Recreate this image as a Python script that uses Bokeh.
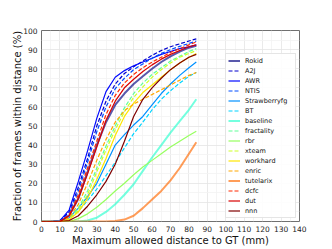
from bokeh.plotting import figure
from bokeh.models import Legend, LegendItem, FixedTicker
from bokeh.embed import file_html
from bokeh.resources import INLINE

# distance thresholds (mm)
dist = [0, 5, 10, 15, 20, 25, 30, 35, 40, 45, 50, 55, 60, 65, 70, 75, 80, 84]

Rokid        = [0, 0, 0, 3, 12, 26, 40, 52, 61, 67, 72, 76, 80, 83.5, 86.5, 89, 91, 92]
A2J          = [0, 0, 0.5, 5, 18, 33, 50, 63, 72, 77.5, 81, 84, 87, 89.5, 91.5, 93, 94.5, 95.6]
AWR          = [0, 0, 0.5, 6, 21, 37, 54, 68, 75.5, 79, 81.5, 83.5, 85.5, 87.5, 89, 90.5, 91.5, 92.5]
NTIS         = [0, 0, 0.3, 4, 16, 31, 47, 60, 69.5, 75, 79.5, 82.5, 85.5, 88, 90, 91.7, 93.2, 94.5]
Strawberryfg = [0, 0, 0, 2, 7, 13, 20, 30, 40, 45.5, 50.5, 55, 61, 67, 72, 76.5, 80.5, 83.5]
BT           = [0, 0, 0, 1.5, 5.5, 11, 17, 24, 31, 38.5, 46, 52, 58.5, 64, 68.5, 72.5, 76, 78]
baseline     = [0, 0, 0, 0, 0, 0.5, 2, 5, 9, 14, 19.5, 26.5, 33.5, 40, 46.5, 52.5, 58.5, 64]
fractality   = [0, 0, 0, 1.5, 7, 16, 28, 39.5, 50, 59.5, 67, 72.5, 77, 80.5, 84, 86.5, 89, 90.5]
rbr          = [0, 0, 0, 0, 1.5, 4, 7.5, 11.5, 16, 20, 24.5, 28.5, 32, 35.5, 39, 42, 45, 47.3]
xteam        = [0, 0, 0, 1, 6, 14, 26, 37.5, 48, 57.5, 65, 70.5, 75.5, 79.5, 83, 86, 88, 89.5]
workhard     = [0, 0, 0, 1, 5, 12, 22, 33, 45, 55, 62, 67.5, 71.5, 75.5, 79.5, 83, 86, 88]
enric        = [0, 0, 0, 2, 9, 20, 32, 43, 52, 58, 61.5, 64, 66.5, 69, 71.5, 74, 76.5, 78]
tutelarix    = [0, 0, 0, 0, 0, 0, 0, 0, 0.3, 1, 3, 7, 11.5, 16, 21.5, 28, 35.5, 41.5]
dcfc         = [0, 0, 0, 3.5, 14, 28, 42, 56, 66, 72.5, 77, 80.5, 83.5, 86, 88.5, 90.5, 92.5, 94]
dut          = [0, 0, 0, 3, 12, 25, 39, 53, 63, 70, 74.5, 78.5, 82, 85, 87.5, 89.5, 91.5, 92.5]
nnn          = [0, 0, 0, 0.5, 3, 8, 14, 21, 30, 42, 55, 64, 70, 75, 79.5, 83, 86, 87.5]

names = ["Rokid", "A2J", "AWR", "NTIS", "Strawberryfg", "BT", "baseline", "fractality",
         "rbr", "xteam", "workhard", "enric", "tutelarix", "dcfc", "dut", "nnn"]
series = [Rokid, A2J, AWR, NTIS, Strawberryfg, BT, baseline, fractality,
          rbr, xteam, workhard, enric, tutelarix, dcfc, dut, nnn]
colors = ["#000080", "#0000cd", "#0009ff", "#004dff", "#0091ff", "#00d4ff", "#29ffce", "#60ff97",
          "#97ff60", "#ceff29", "#ffe600", "#ffa700", "#ff6800", "#ff2900", "#d80000", "#800000"]
dashed = {"A2J", "NTIS", "BT", "fractality", "xteam", "enric", "dcfc"}
thick = {"Rokid", "baseline", "tutelarix"}

x_ticks = [0, 10, 20, 30, 40, 50, 60, 70, 80, 90, 100, 110, 120, 130, 140]
y_ticks = [0, 10, 20, 30, 40, 50, 60, 70, 80, 90, 100]

p = figure(width=332, height=249, output_backend="svg", toolbar_location=None,
           x_range=(0, 140), y_range=(0, 100),
           min_border_left=41, min_border_right=33, min_border_top=30, min_border_bottom=28)

p.outline_line_color = "#707070"
p.outline_line_width = 1
p.background_fill_color = "white"

for ax in (p.xaxis[0], p.yaxis[0]):
    ax.axis_line_color = None
    ax.major_tick_line_color = None
    ax.minor_tick_line_color = None
    ax.major_tick_out = 0
    ax.major_tick_in = 0
    ax.minor_tick_out = 0
    ax.minor_tick_in = 0
    ax.major_label_text_font = "DejaVu Sans"
    ax.major_label_text_font_size = "7.5px"
    ax.major_label_text_color = "#222222"
    ax.axis_label_text_font = "DejaVu Sans"
    ax.axis_label_text_font_size = "10px"
    ax.axis_label_text_font_style = "normal"
    ax.axis_label_text_color = "#111111"
    ax.major_label_standoff = 4
    ax.axis_label_standoff = 3

p.xaxis[0].axis_label_standoff = 0
p.yaxis[0].axis_label_standoff = -3
p.xaxis[0].ticker = FixedTicker(ticks=x_ticks, minor_ticks=[v + 5 for v in x_ticks[:-1]])
p.yaxis[0].ticker = FixedTicker(ticks=y_ticks, minor_ticks=[v + 5 for v in y_ticks[:-1]])
p.xaxis.axis_label = "Maximum allowed distance to GT (mm)"
p.yaxis.axis_label = "Fraction of frames within distance (%)"

p.grid.grid_line_color = "#e4e4e4"
p.grid.grid_line_width = 0.8
p.grid.minor_grid_line_color = "#f2f2f2"
p.grid.minor_grid_line_width = 0.8

items = []
for name, ys, col in zip(names, series, colors):
    kw = dict(line_color=col, line_width=1.2)
    if name in dashed:
        kw["line_dash"] = "4 2"
    if name in thick:
        kw["line_width"] = 2.0
        kw["line_alpha"] = 0.65
    r = p.line(dist, ys, **kw)
    items.append(LegendItem(label=name, renderers=[r]))

legend = Legend(items=items, location=(184, 3), orientation="vertical",
                label_text_font="DejaVu Sans", label_text_font_size="6.5px",
                label_text_color="#111111",
                glyph_width=12, glyph_height=9, label_height=9, label_width=48, spacing=1,
                label_standoff=5, padding=2, margin=0,
                border_line_color="#cccccc", border_line_width=1,
                background_fill_color="white", background_fill_alpha=0.9)
p.add_layout(legend, "center")

open("out.html", "w").write(file_html(p, INLINE))
